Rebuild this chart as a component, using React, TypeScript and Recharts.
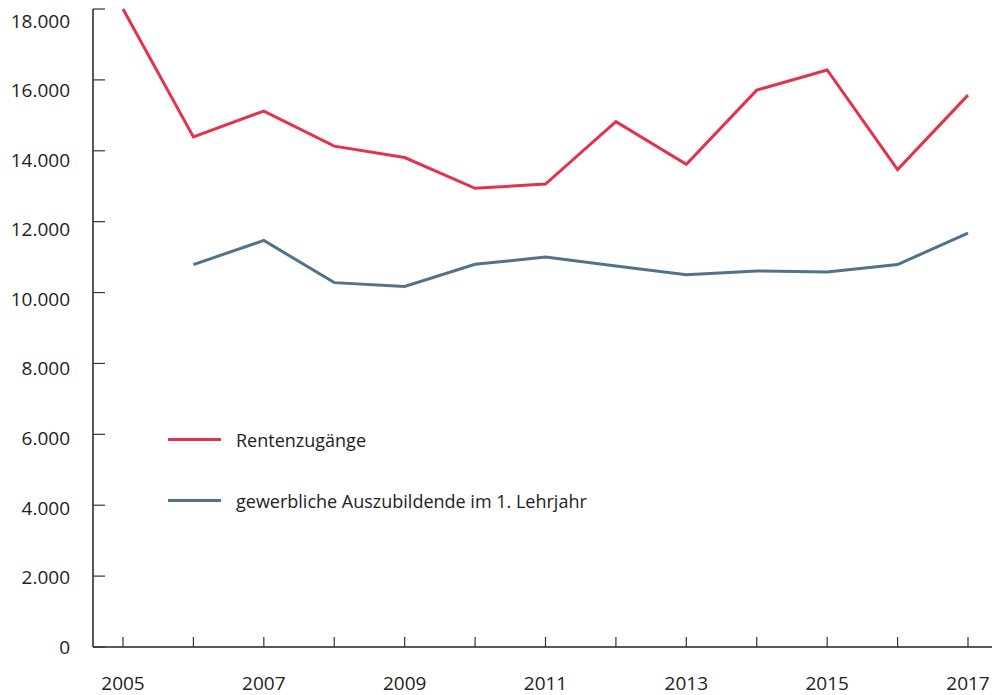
import * as React from "react"
import { LineChart, Line, XAxis, YAxis, Legend } from "recharts"

const YEARS = [2005, 2006, 2007, 2008, 2009, 2010, 2011, 2012, 2013, 2014, 2015, 2016, 2017]
const RENTEN = [18000, 14390, 15120, 14130, 13810, 12940, 13060, 14820, 13620, 15710, 16280, 13470, 15570]
const AZUBIS = [null, 10790, 11470, 10280, 10170, 10800, 11000, 10750, 10500, 10610, 10580, 10790, 11680]
const Y_TICKS = [0, 2000, 4000, 6000, 8000, 10000, 12000, 14000, 16000, 18000]

const RED = "#e5324b"
const BLUE = "#52728a"
const FONT = "'Open Sans', sans-serif"

const data = YEARS.map((year, i) => ({
  year,
  renten: RENTEN[i],
  azubis: AZUBIS[i],
}))

const fmt = (v: number) => v.toLocaleString("de-DE")

function XTick({ x, y, payload }: any) {
  const v = payload.value as number
  return (
    <g>
      <line x1={x} x2={x} y1={y} y2={y - 10} stroke="#333" strokeWidth={1.2} />
      {v % 2 === 1 && (
        <text x={x} y={y + 43} textAnchor="middle" fontSize={19} fill="#222" fontFamily={FONT}>
          {v}
        </text>
      )}
    </g>
  )
}

function YTick({ x, y, payload }: any) {
  const v = payload.value as number
  // labels drift slightly below their tick marks towards the top in the original
  const drift = (v / 18000) * 12
  return (
    <g>
      <line x1={x} x2={x + 12} y1={y} y2={y} stroke="#333" strokeWidth={1.2} />
      <text
        x={x - 23}
        y={y + drift}
        dy="0.35em"
        textAnchor="end"
        fontSize={19}
        fill="#222"
        fontFamily={FONT}
      >
        {fmt(v)}
      </text>
    </g>
  )
}

function LegendContent({ payload }: any) {
  return (
    <div>
      {(payload || []).map((entry: any) => (
        <div
          key={entry.value}
          style={{ display: "flex", alignItems: "center", height: 61 }}
        >
          <div style={{ width: 53, height: 3, background: entry.color, marginRight: 15 }} />
          <span style={{ fontSize: 18, color: "#222", fontFamily: FONT }}>{entry.value}</span>
        </div>
      ))}
    </div>
  )
}

export default function App() {
  return (
    <div style={{ position: "absolute", left: 0, top: 0, width: 992, height: 695, background: "#fff" }}>
      <LineChart
        width={992}
        height={695}
        data={data}
        margin={{ top: 9, right: 0, bottom: 0, left: 0 }}
      >
        <XAxis
          dataKey="year"
          type="number"
          domain={[2005, 2017]}
          ticks={YEARS}
          padding={{ left: 30, right: 24 }}
          height={48}
          tickSize={0}
          tickMargin={0}
          tickLine={false}
          axisLine={{ stroke: "#222", strokeWidth: 1.5 }}
          tick={<XTick />}
          interval={0}
        />
        <YAxis
          type="number"
          domain={[0, 18000]}
          ticks={Y_TICKS}
          width={93}
          tickSize={0}
          tickMargin={0}
          tickLine={false}
          axisLine={{ stroke: "#222", strokeWidth: 1.5 }}
          tick={<YTick />}
          interval={0}
        />
        <Legend
          layout="vertical"
          verticalAlign="middle"
          align="center"
          content={<LegendContent />}
          wrapperStyle={{ position: "absolute", left: 168, top: 409, width: 500 }}
        />
        <Line
          dataKey="renten"
          name="Rentenzugänge"
          stroke={RED}
          strokeWidth={3}
          dot={false}
          isAnimationActive={false}
        />
        <Line
          dataKey="azubis"
          name="gewerbliche Auszubildende im 1. Lehrjahr"
          stroke={BLUE}
          strokeWidth={3}
          dot={false}
          isAnimationActive={false}
        />
      </LineChart>
    </div>
  )
}
